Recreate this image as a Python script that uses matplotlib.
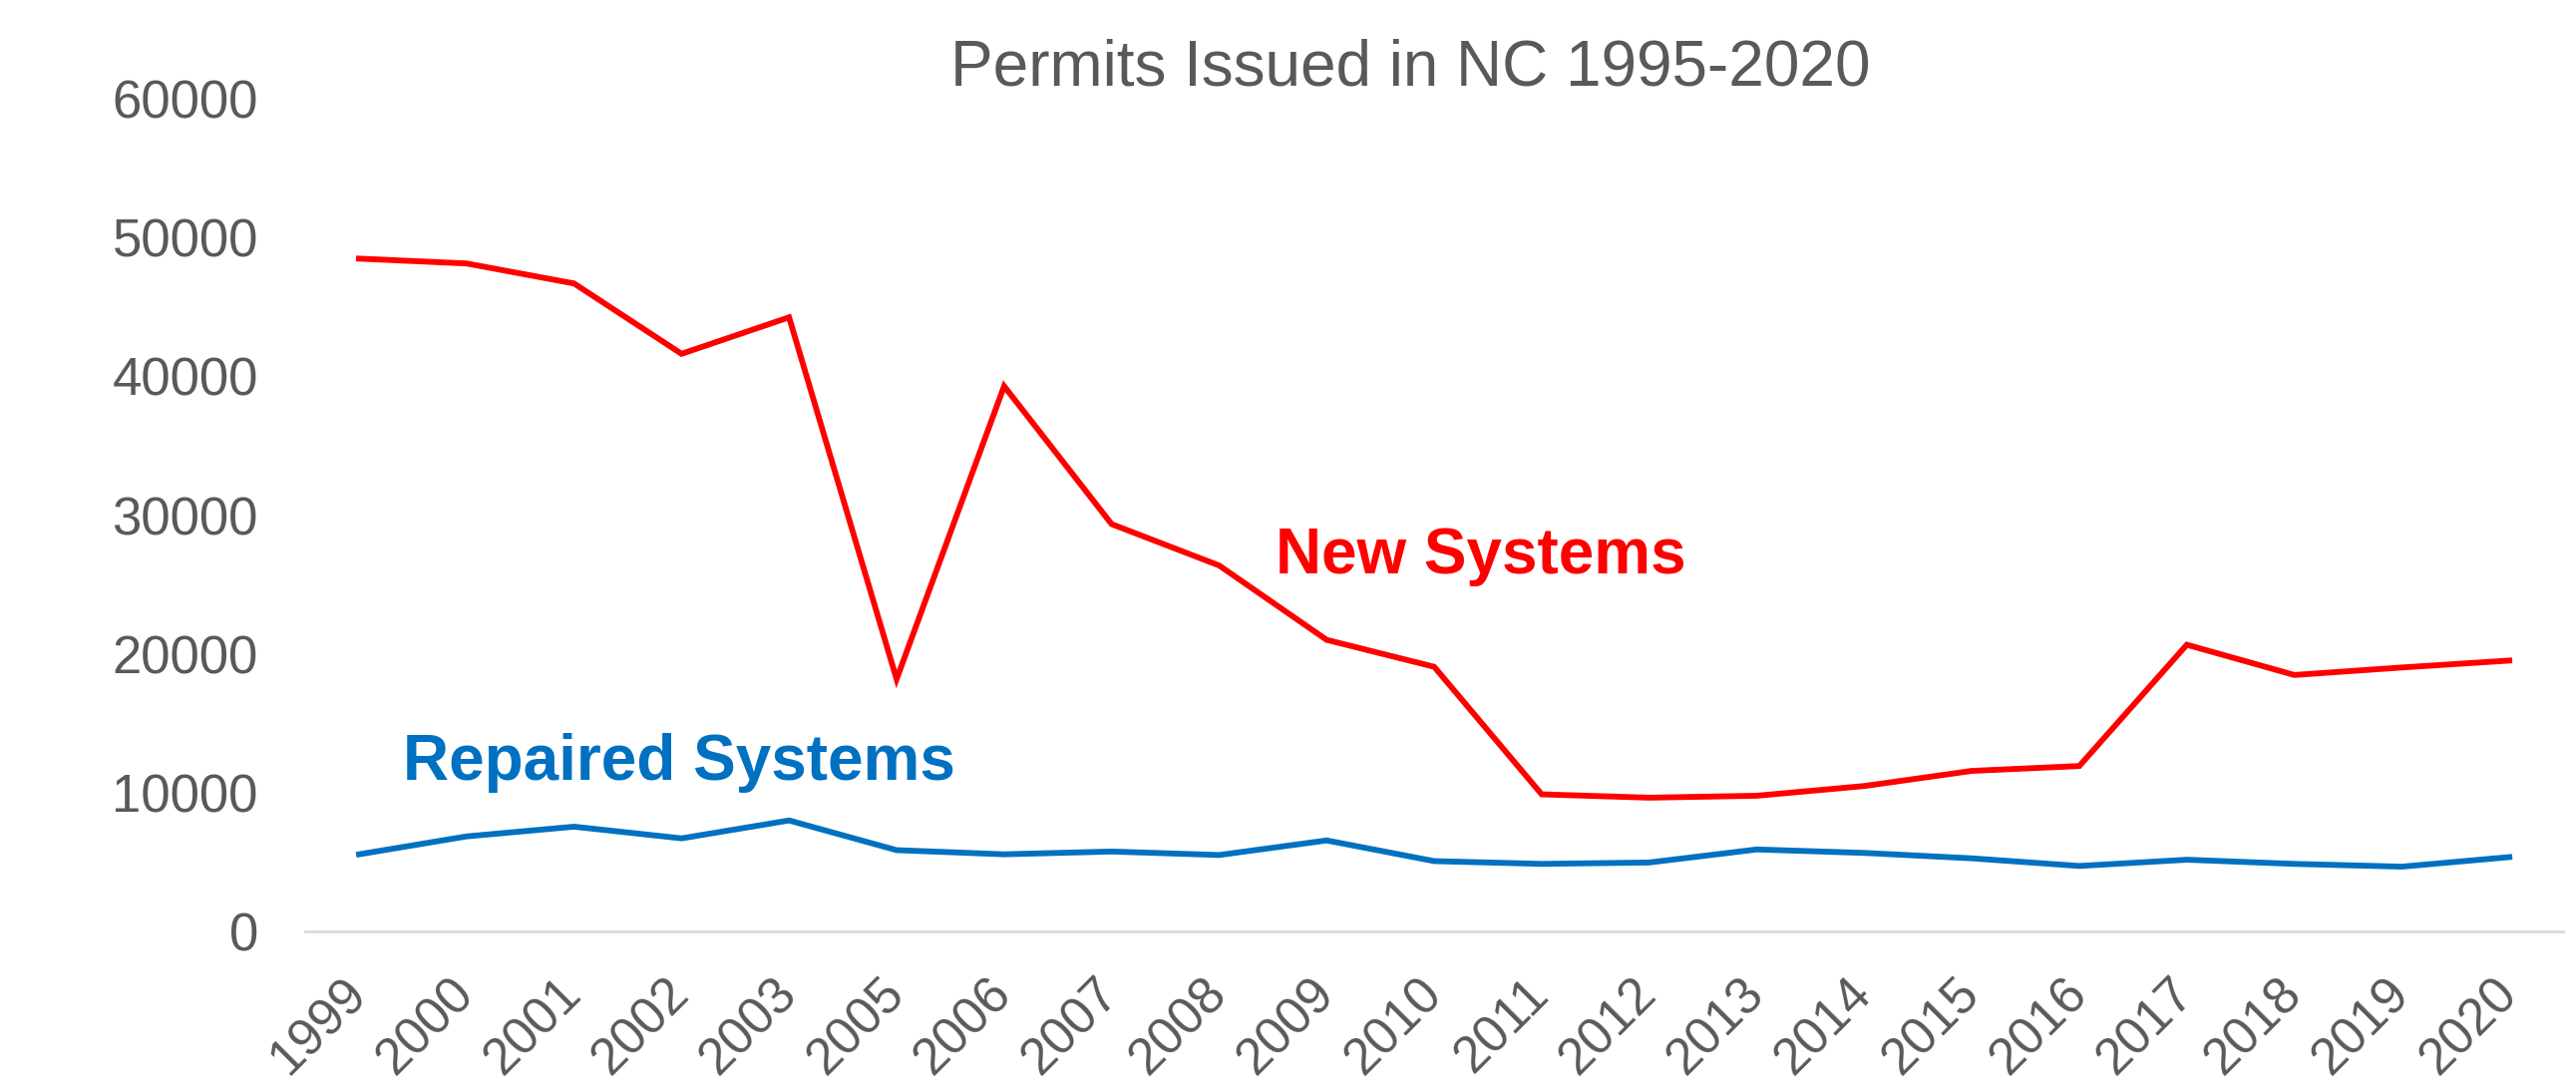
import matplotlib
matplotlib.use("Agg")
import matplotlib.pyplot as plt
import numpy as np

plt.rcParams["font.family"] = ["Liberation Sans", "DejaVu Sans"]

# categories (2004 is absent from the source data)
years = ["1999", "2000", "2001", "2002", "2003", "2005", "2006", "2007",
         "2008", "2009", "2010", "2011", "2012", "2013", "2014", "2015",
         "2016", "2017", "2018", "2019", "2020"]

new_systems = [48480, 48130, 46690, 41620, 44250, 18180, 39290, 29350,
               26370, 21010, 19070, 9880, 9640, 9780, 10480, 11570,
               11920, 20660, 18480, 19020, 19520]

repaired_systems = [5560, 6850, 7550, 6710, 8000, 5860, 5560, 5760,
                    5510, 6560, 5070, 4870, 4970, 5910, 5660, 5270,
                    4720, 5170, 4870, 4670, 5360]

yticks = [0, 10000, 20000, 30000, 40000, 50000, 60000]

RED = "#FF0000"
BLUE = "#0070C0"
GREY = "#595959"

fig = plt.figure(figsize=(25.83, 10.88), dpi=100)
ax = fig.add_axes([0.1185, 0.1415, 0.8765, 0.7675])

x = np.arange(len(years))
ax.plot(x, new_systems, color=RED, lw=4.2, solid_joinstyle="miter")
ax.plot(x, repaired_systems, color=BLUE, lw=4.2, solid_joinstyle="miter")

ax.set_xlim(-0.5, len(years) - 0.5)
ax.set_ylim(0, 60000)
ax.set_yticks(yticks)
ax.set_yticklabels([str(v) for v in yticks])
ax.set_xticks(x)
ax.set_xticklabels(years, rotation=45, ha="right", va="center",
                   rotation_mode="anchor")

for side in ["top", "right", "left"]:
    ax.spines[side].set_visible(False)
ax.spines["bottom"].set_color("#D9D9D9")
ax.spines["bottom"].set_linewidth(2)

ax.tick_params(axis="y", length=0, pad=34, labelsize=38, labelcolor=GREY)
ax.tick_params(axis="x", length=0, pad=40, labelsize=37, labelcolor=GREY)

fig.text(0.575, 0.487, "New Systems", color=RED, fontsize=46,
         fontweight="bold", ha="center", va="center")
fig.text(0.2635, 0.297, "Repaired Systems", color=BLUE, fontsize=46,
         fontweight="bold", ha="center", va="center")

fig.text(0.5475, 0.937, "Permits Issued in NC 1995-2020", color=GREY,
         fontsize=46, ha="center", va="center")

fig.savefig("out.png", dpi=100)
